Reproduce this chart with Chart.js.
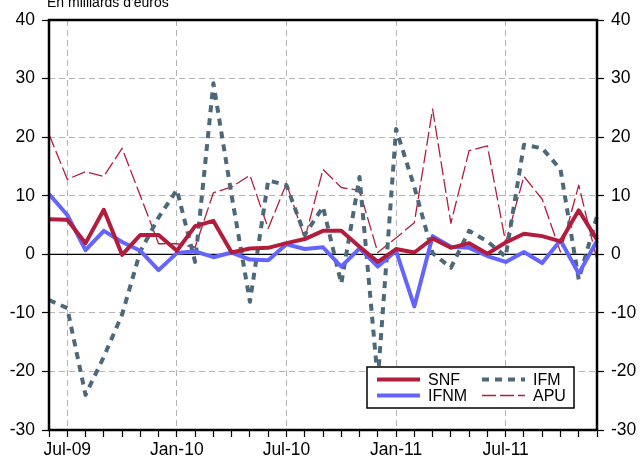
<!DOCTYPE html>
<html>
<head>
<meta charset="utf-8">
<script src="https://cdn.jsdelivr.net/npm/chart.js@4.4.1/dist/chart.umd.min.js"></script>
<style>
    body { margin: 0; background: #fff; }
    canvas { display: block; }
</style>
</head>
<body>
<canvas id="myChart" width="641" height="459"></canvas>
<script>
// monthly data, Jun-09 .. Dec-11
var months = ['Jun-09', 'Jul-09', 'Aug-09', 'Sep-09', 'Oct-09', 'Nov-09', 'Dec-09',
    'Jan-10', 'Feb-10', 'Mar-10', 'Apr-10', 'May-10', 'Jun-10', 'Jul-10', 'Aug-10', 'Sep-10', 'Oct-10', 'Nov-10', 'Dec-10',
    'Jan-11', 'Feb-11', 'Mar-11', 'Apr-11', 'May-11', 'Jun-11', 'Jul-11', 'Aug-11', 'Sep-11', 'Oct-11', 'Nov-11', 'Dec-11'];

var snf = [6.0, 5.9, 1.9, 7.6, -0.1, 3.3, 3.3,
    0.6, 4.8, 5.7, 0.3, 1.0, 1.1, 1.9, 2.6, 4.0, 4.0, 1.3, -1.3,
    0.9, 0.3, 2.7, 1.1, 1.9, 0.1, 2.0, 3.5, 3.1, 2.2, 7.5, 2.5];
var ifnm = [10.3, 6.7, 0.7, 4.0, 2.1, 0.6, -2.7,
    0.2, 0.5, -0.5, 0.3, -0.9, -1.0, 1.7, 0.9, 1.2, -2.1, 1.0, -2.1,
    0.6, -8.9, 3.1, 1.3, 1.1, -0.3, -1.3, 0.4, -1.5, 2.4, -3.3, 2.3];
var ifm = [-7.8, -9.2, -24.0, -17.5, -10.3, 0.5, 6.3,
    11.0, -1.3, 29.2, 10.0, -8.1, 12.6, 11.8, 3.3, 8.1, -5.0, 13.2, -21.5,
    21.4, 11.5, 0.2, -2.3, 4.0, 2.2, -0.4, 18.7, 18.1, 14.5, -4.3, 6.5];
var apu = [20.5, 12.8, 14.1, 13.3, 18.1, 10.0, 1.8,
    1.8, 1.2, 10.5, 11.5, 13.5, 4.4, 12.1, 2.6, 14.5, 11.4, 10.9, 0.3,
    2.8, 5.4, 24.8, 5.3, 17.7, 18.5, 2.0, 13.3, 9.4, 0.4, 11.8, -1.0];

var yTicks = [-30, -20, -10, 0, 10, 20, 30, 40];
var unitLabel = "En milliards d'euros";

var crimson = '#b21d3d';
var family = "'Liberation Sans', Arial, sans-serif";
var tickFont = { family: family, size: 17.5 };

function isMarked(i) {
    var m = months[i] || '';
    return m.indexOf('Jan') === 0 || m.indexOf('Jul') === 0;
}

// zero line, frame, boxed legend and the (cut) unit label
var decorations = {
    id: 'decorations',
    beforeDatasetsDraw: function (chart) {
        var ctx = chart.ctx, a = chart.chartArea;
        var y0 = chart.scales.y.getPixelForValue(0);
        ctx.save();
        ctx.strokeStyle = '#000';
        ctx.lineWidth = 1.2;
        ctx.beginPath();
        ctx.moveTo(a.left, y0);
        ctx.lineTo(a.right, y0);
        ctx.stroke();
        ctx.restore();
    },
    afterDatasetsDraw: function (chart) {
        var ctx = chart.ctx, a = chart.chartArea;
        ctx.save();

        // legend box
        var bx = a.left + 318, by = a.top + 347, bw = 207, bh = 41;
        ctx.fillStyle = '#fff';
        ctx.fillRect(bx, by, bw, bh);
        ctx.strokeStyle = '#000';
        ctx.lineWidth = 1.5;
        ctx.strokeRect(bx, by, bw, bh);

        ctx.font = '16px ' + family;
        ctx.textBaseline = 'middle';
        chart.data.datasets.forEach(function (ds, i) {
            var col = Math.floor(i / 2), row = i % 2;
            var lx = bx + 10 + col * 105;
            var ly = by + 12.5 + row * 16;
            ctx.strokeStyle = ds.borderColor;
            ctx.lineWidth = ds.borderWidth;
            ctx.setLineDash(ds.borderDash || []);
            ctx.beginPath();
            ctx.moveTo(lx, ly);
            ctx.lineTo(lx + 43, ly);
            ctx.stroke();
            ctx.setLineDash([]);
            ctx.fillStyle = '#000';
            ctx.fillText(ds.label, lx + 51, ly + 1);
        });

        // frame
        ctx.strokeStyle = '#000';
        ctx.lineWidth = 2.5;
        ctx.strokeRect(a.left, a.top, a.right - a.left, a.bottom - a.top);
        ctx.restore();
    },
    afterDraw: function (chart) {
        var ctx = chart.ctx;
        ctx.save();
        ctx.font = '14px ' + family;
        ctx.fillStyle = '#000';
        ctx.textBaseline = 'alphabetic';
        ctx.fillText(unitLabel, chart.chartArea.left - 2, 6.5);
        ctx.restore();
    }
};

var yScale = function (pos) {
    return {
        position: pos,
        min: -30,
        max: 40,
        afterBuildTicks: function (scale) {
            scale.ticks = yTicks.map(function (v) { return { value: v }; });
        },
        afterFit: function (scale) { scale.width = pos === 'left' ? 49 : 44; },
        border: { display: false, dash: [6, 4] },
        grid: {
            drawOnChartArea: pos === 'left',
            color: function (c) { return c.tick && c.tick.value === 0 ? 'rgba(0,0,0,0)' : '#b4b4b4'; },
            lineWidth: 1,
            tickColor: '#000',
            tickLength: 7,
            tickWidth: 1.2
        },
        ticks: { color: '#000', font: tickFont, padding: 7 }
    };
};

var ctx = document.getElementById('myChart').getContext('2d');
window.myChart = new Chart(ctx, {
    type: 'line',
    data: {
        labels: months,
        datasets: [
            { label: 'SNF', data: snf, borderColor: crimson, borderWidth: 4 },
            { label: 'IFNM', data: ifnm, borderColor: '#6464ff', borderWidth: 4 },
            { label: 'IFM', data: ifm, borderColor: '#4d6979', borderWidth: 4, borderDash: [7, 6] },
            { label: 'APU', data: apu, borderColor: crimson, borderWidth: 1.3, borderDash: [14, 4] }
        ]
    },
    options: {
        responsive: false,
        animation: false,
        layout: { padding: { top: 20, left: 0, right: 0, bottom: 0 } },
        elements: {
            point: { radius: 0 },
            line: { tension: 0, fill: false, borderJoinStyle: 'round' }
        },
        plugins: {
            legend: { display: false },
            tooltip: { enabled: false }
        },
        scales: {
            x: {
                offset: false,
                afterFit: function (scale) { scale.height = 29; },
                border: { display: false, dash: [6, 4] },
                grid: {
                    offset: false,
                    color: function (c) { return isMarked(c.index) ? '#b4b4b4' : 'rgba(0,0,0,0)'; },
                    tickColor: '#000',
                    tickLength: 7,
                    tickWidth: 1.2
                },
                ticks: {
                    autoSkip: false,
                    maxRotation: 0,
                    color: '#000',
                    font: tickFont,
                    padding: 3,
                    callback: function (v, i) { return isMarked(i) ? months[i] : ''; }
                }
            },
            y: yScale('left'),
            y2: yScale('right')
        }
    },
    plugins: [decorations]
});
</script>
</body>
</html>
